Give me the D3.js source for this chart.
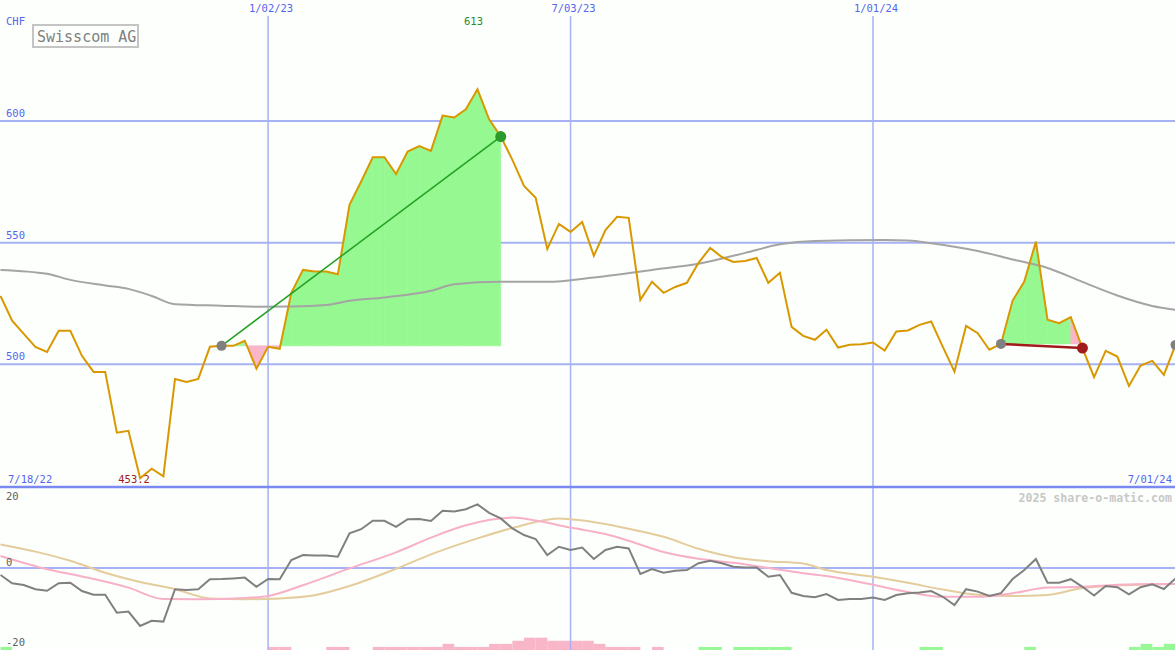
<!DOCTYPE html>
<html><head><meta charset="utf-8">
<script src="https://cdn.jsdelivr.net/npm/d3@7"></script>
<style>html,body{margin:0;padding:0;background:#fcfffc;}svg{display:block;}</style>
</head><body>
<svg id="c" width="1175" height="650"></svg>
<script>
// ---- data ----
const startDate = "2022-07-25"; // weekly closes
const price = [528.1,517.9,512.5,507.2,505.1,513.8,513.8,503.5,496.9,496.9,
471.9,472.7,453.2,457.1,454.0,494.0,492.8,494.0,507.2,507.6,
507.6,509.7,498.2,507.2,506.4,529.4,538.8,538.1,538.1,537.0,
565.5,575.1,585.1,585.1,578.2,587.4,589.7,587.7,602.2,601.4,
604.8,613.0,600.7,593.6,584.0,573.3,568.4,547.4,557.7,554.4,
558.5,544.6,555.2,560.6,560.2,526.5,533.9,529.4,531.8,533.5,
541.7,547.8,544.1,542.1,542.5,543.7,533.5,537.6,515.4,511.7,
510.1,514.2,506.9,508.0,508.3,509.0,505.7,513.5,513.9,516.2,
517.6,507.2,497.0,515.8,512.8,506.0,508.4,526.2,534.0,550.4,
518.3,516.9,519.4,506.7,494.7,505.5,503.2,491.1,499.5,501.4,
495.7,508.0];
const maWeek  = [0,4,6,9,11,13,15,19,22,25,28,30,33,37,39,43,47,51,56,60,64,67,70,76,78,80,84,87,90,93,96,99,101];
const maValue = [538.8,537.2,534.7,532.4,531.0,528.1,524.7,524.1,523.7,523.8,524.4,526.1,527.5,530.2,532.9,533.9,533.9,535.7,538.8,541.3,545.8,549.3,550.7,551.1,550.9,549.8,546.6,543.1,539.6,533.9,528.3,524.0,522.4];
const osc = [-1.75,-3.8,-4.25,-5.3,-5.7,-3.8,-3.7,-5.75,-6.7,-6.7,
-11.2,-10.9,-14.5,-13.2,-13.4,-5.3,-5.5,-5.3,-2.8,-2.75,
-2.6,-2.4,-4.7,-2.75,-2.8,2.0,3.25,3.1,3.1,2.8,
8.7,9.7,11.8,11.8,10.3,12.2,12.25,11.75,14.3,14.1,
14.7,15.9,13.8,12.4,9.9,8.25,7.25,3.25,5.3,4.5,
5.1,2.25,4.5,5.3,4.9,-1.5,-0.25,-1.2,-0.7,-0.5,
1.2,1.8,1.2,0.3,0.1,0.1,-2.2,-1.75,-6.2,-7.0,
-7.3,-6.5,-8,-7.75,-7.75,-7.4,-8,-6.75,-6.3,-6.1,
-5.75,-7.2,-9.25,-5.3,-5.9,-7,-6.3,-2.75,-0.5,2.25,
-3.7,-3.7,-2.8,-4.7,-6.9,-4.5,-4.8,-6.6,-4.8,-4.1,
-5.25,-2.6];
const sigWeek  = [0,4,7,11,14,17,21,23,26,30,34,37,40,44,46,49,52,54,57,60,63,66,69,71,75,78,81,84,87,90,93,96,99,101];
const sigValue = [3.0,-0.3,-2.1,-4.9,-7.75,-7.8,-7.5,-7,-4.3,-0.1,3.9,7.6,10.7,12.6,11.9,10.1,8.5,6.8,4.0,2.3,1.3,0.0,-1.3,-2,-4.2,-6.0,-7.2,-7.2,-6.3,-4.9,-4.7,-4.2,-4.0,-4.0];
const slowWeek  = [0,3,6,9,12,15,18,21,24,27,30,34,37,41,44,48,49,52,54,57,60,63,66,69,71,75,78,81,84,87,90,93,96,101];
const slowValue = [5.9,4.1,1.8,-1.2,-3.5,-5.3,-7.6,-7.8,-7.6,-6.8,-4.5,-0.2,3.4,7.4,10,12.4,12.2,11.0,9.8,7.8,4.8,2.7,1.7,1.1,-0.5,-2.2,-3.7,-5.4,-6.7,-7,-6.75,-5.0,-4.4,-4];
const bars = [1,0,0,0,0,0,0,0,0,0, 0,0,0,0,0,0,0,0,0,0,
0,0,0,-1,-1,0,0,0,-1,-1, 0,0,-1,-1,-1,-1,-1,-1,-2,-1,
-1,-1,-2,-2,-3,-4,-4,-3,-3,-3, -3,-2,-1,-1,-1,0,-1,0,0,0,
1,1,0,1,1,1,1,1,0,0, 0,0,0,0,0,0,0,0,0,1,
1,0,0,0,0,0,0,0,1,0, 0,0,0,0,0,0,0,1,2,1,
2,0];
const gridDates = ["2023-01-02","2023-07-03","2024-01-01"];
const gridLabels = ["1/02/23","7/03/23","1/01/24"];
const priceTicks = [600,550,500];
const oscTicks = [20,0,-20];
const trades = [{from:19,to:43,color:"#22a022",endColor:"#2a9a2a",w:1.5},
                {from:86,to:93,color:"#a01818",endColor:"#a01c1c",w:2.5}];
const title = "Swisscom AG", currency = "CHF";
const firstLabel = "7/18/22", lastLabel = "7/01/24";
const highLabel = "613", lowLabel = "453.2";
const watermark = "2025 share-o-matic.com";

// ---- setup ----
const W = 1175, H = 650;
const svg = d3.select("#c");
const parse = d3.utcParse("%Y-%m-%d");
const d0 = parse(startDate);
const dates = price.map((_, i) => d3.utcDay.offset(d0, 7 * i));
const x = d3.scaleUtc().domain([dates[0], dates[dates.length - 1]]).range([0.5, W + 0.5]);
const y = d3.scaleLinear().domain([449.6, 649.7]).range([487, 0]);
const yo = d3.scaleLinear().domain([-20.5, 20.25]).range([650, 487]);
const yb = d3.scaleLinear().domain([0, 4]).range([650, 637.7]);
const font = "'DejaVu Sans Mono', monospace";
const blue = "#5566ee";

svg.append("rect").attr("width", W).attr("height", H).attr("fill", "#fcfffc");

// bars (bottom strip)
svg.append("g").selectAll("rect").data(bars.map((v, i) => ({v, i})).filter(d => d.v !== 0 && d.i < dates.length - 1))
  .join("rect")
  .attr("x", d => x(dates[d.i])).attr("width", d => x(dates[d.i + 1]) - x(dates[d.i]))
  .attr("y", d => yb(Math.abs(d.v))).attr("height", d => 650 - yb(Math.abs(d.v)))
  .attr("fill", d => d.v > 0 ? "#98f898" : "#f8b6c8");

// grid
const g = svg.append("g");
g.selectAll("line.h").data(priceTicks).join("line")
  .attr("x1", 0).attr("x2", W).attr("y1", d => y(d)).attr("y2", d => y(d))
  .attr("stroke", "#a6b2f4").attr("stroke-width", 2);
g.append("line").attr("x1", 0).attr("x2", W).attr("y1", yo(0)).attr("y2", yo(0))
  .attr("stroke", "#a6b2f4").attr("stroke-width", 2);
g.selectAll("line.v").data(gridDates).join("line")
  .attr("x1", d => x(parse(d))).attr("x2", d => x(parse(d))).attr("y1", 16).attr("y2", H)
  .attr("stroke", "#a6b2f4").attr("stroke-width", 1.5);
g.append("line").attr("x1", 0).attr("x2", W).attr("y1", 487).attr("y2", 487)
  .attr("stroke", "#7a8af0").attr("stroke-width", 2.5);

// trade fills
const fills = svg.append("g");
trades.forEach(t => {
  const base = price[t.from];
  for (let i = t.from; i < t.to; i++) {
    const pts = [[x(dates[i]), y(price[i])], [x(dates[i + 1]), y(price[i + 1])],
                 [x(dates[i + 1]), y(base)], [x(dates[i]), y(base)]];
    fills.append("path").attr("d", "M" + pts.join("L") + "Z")
      .attr("fill", price[i + 1] >= base ? "#96f890" : "#f8b6c8")
      .attr("stroke", price[i + 1] >= base ? "#96f890" : "#f8b6c8").attr("stroke-width", 0.6);
  }
});

// moving average
svg.append("path").datum(maWeek.map((w, i) => [dates[w], maValue[i]]))
  .attr("d", d3.line().x(d => x(d[0])).y(d => y(d[1])).curve(d3.curveMonotoneX))
  .attr("fill", "none").attr("stroke", "#a4a4a4").attr("stroke-width", 2);

// price
svg.append("path").datum(price)
  .attr("d", d3.line().x((d, i) => x(dates[i])).y(d => y(d)))
  .attr("fill", "none").attr("stroke", "#d99800").attr("stroke-width", 2).attr("stroke-linejoin", "miter");

// trade lines and dots
trades.forEach(t => {
  svg.append("line")
    .attr("x1", x(dates[t.from])).attr("y1", y(price[t.from]))
    .attr("x2", x(dates[t.to])).attr("y2", y(price[t.to]))
    .attr("stroke", t.color).attr("stroke-width", t.w);
  svg.append("circle").attr("cx", x(dates[t.from])).attr("cy", y(price[t.from])).attr("r", 5).attr("fill", "#808080");
  svg.append("circle").attr("cx", x(dates[t.to])).attr("cy", y(price[t.to])).attr("r", 5.5).attr("fill", t.endColor);
});
const li = price.length - 1;
svg.append("circle").attr("cx", x(dates[li])).attr("cy", y(price[li])).attr("r", 5).attr("fill", "#808080");

// oscillator lines
const lo = d3.line().x(d => x(d[0])).y(d => yo(d[1]));
svg.append("path").datum(slowWeek.map((w, i) => [dates[w], slowValue[i]]))
  .attr("d", lo.curve(d3.curveMonotoneX)).attr("fill", "none").attr("stroke", "#e4cc9c").attr("stroke-width", 2);
svg.append("path").datum(sigWeek.map((w, i) => [dates[w], sigValue[i]]))
  .attr("d", lo.curve(d3.curveMonotoneX)).attr("fill", "none").attr("stroke", "#f8b0c8").attr("stroke-width", 2);
svg.append("path").datum(osc.map((v, i) => [dates[i], v]))
  .attr("d", lo.curve(d3.curveLinear)).attr("fill", "none").attr("stroke", "#808080").attr("stroke-width", 2);

// texts
const txt = (s, xx, yy, opts = {}) => svg.append("text").text(s).attr("x", xx).attr("y", yy)
  .attr("font-family", font).attr("font-size", opts.size || 10.5)
  .attr("font-weight", opts.weight || "normal")
  .attr("text-anchor", opts.anchor || "start").attr("fill", opts.fill || blue);

txt(currency, 6, 25);
priceTicks.forEach(v => txt(String(v), 6, y(v) - 4));
gridDates.forEach((d, i) => txt(gridLabels[i], x(parse(d)) + 3, 12, {anchor: "middle"}));
svg.append("rect").attr("x", 33).attr("y", 25).attr("width", 105).attr("height", 22)
  .attr("fill", "#fcfffc").attr("stroke", "#c4c4c4").attr("stroke-width", 2);
txt(title, 37, 42, {size: 15, fill: "#808080"});
const hi = price.indexOf(d3.max(price)), lo_i = price.indexOf(d3.min(price));
txt(highLabel, x(dates[hi]) - 4, 25, {anchor: "middle", fill: "#2a8a2a"});
txt(lowLabel, x(dates[lo_i]) - 6, 483, {anchor: "middle", fill: "#a01c1c"});
txt(firstLabel, 8, 483);
txt(lastLabel, 1172, 483, {anchor: "end"});
txt(watermark, 1172, 502, {anchor: "end", size: 11.6, weight: "bold", fill: "#c8c8c8"});
oscTicks.forEach(v => {
  const yy = v === 20 ? 500 : (v === 0 ? yo(0) - 2 : 646);
  txt(String(v), 6, yy, {fill: "#606060"});
});
</script>
</body></html>
